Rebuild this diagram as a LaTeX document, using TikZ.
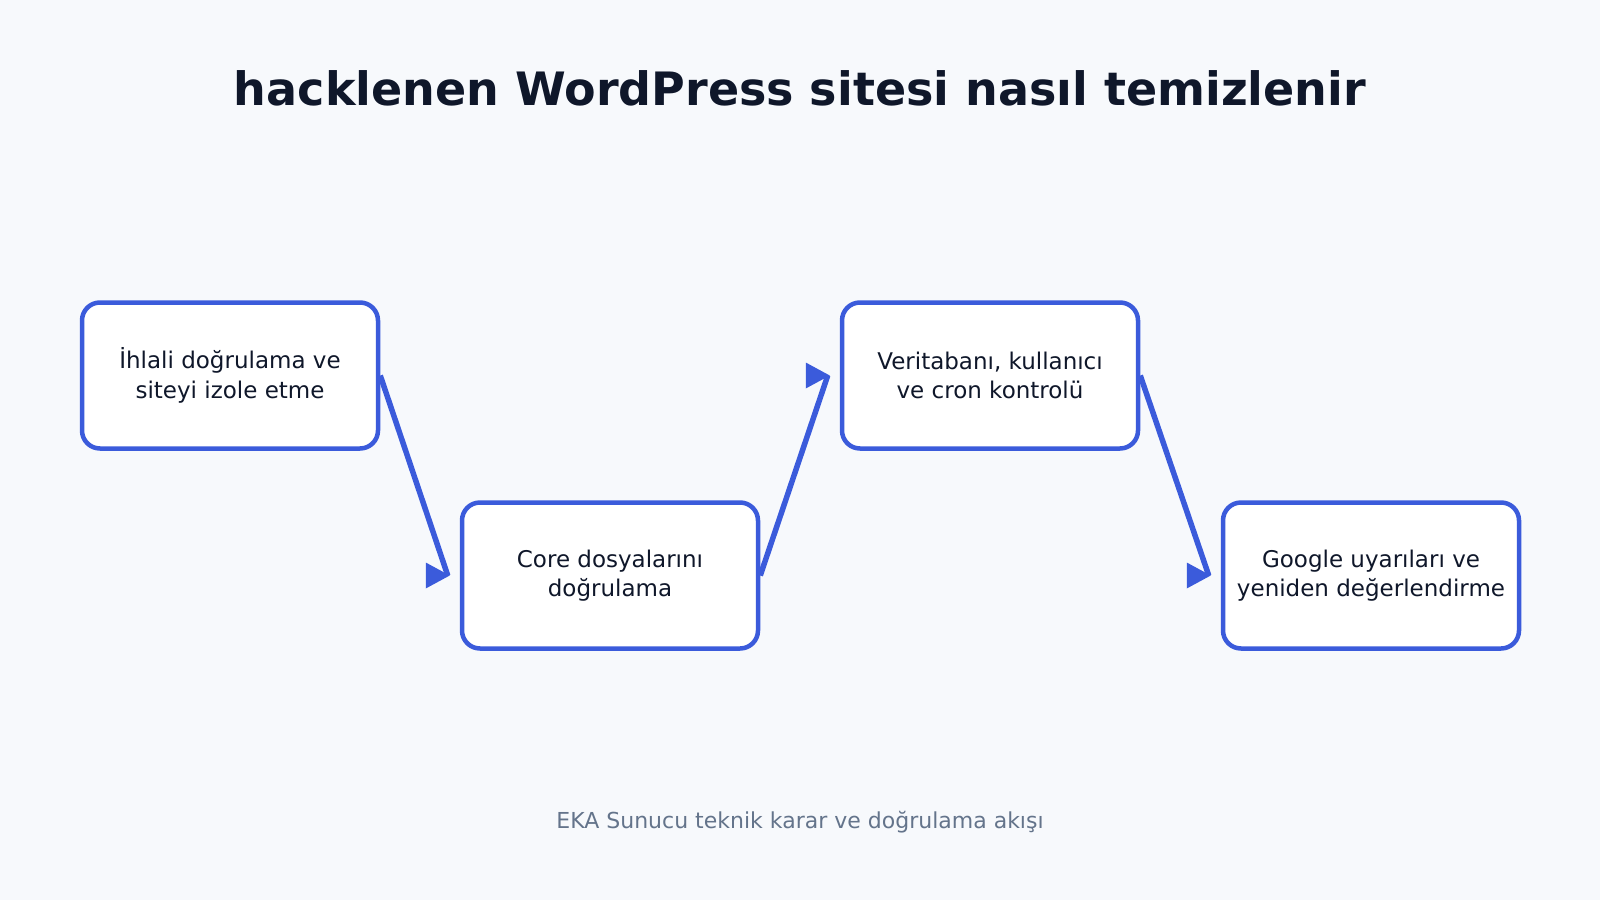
\documentclass[tikz,border=0pt]{standalone}
\usepackage{fontspec}
\setmainfont{DejaVu Sans}
\usetikzlibrary{calc}
\definecolor{bg}{HTML}{F7F9FC}
\definecolor{blu}{HTML}{3B5BDB}
\definecolor{ink}{HTML}{0F172A}
\definecolor{txt}{HTML}{0F172A}
\definecolor{foot}{HTML}{64748B}
\begin{document}
\begin{tikzpicture}[x=1pt,y=-1pt,
 stepbox/.style={draw=blu, line width=4.5pt, fill=white, rounded corners=18pt, minimum width=296pt, minimum height=146pt, align=center, font=\fontsize{23}{29.5}\selectfont, text=txt, inner sep=0pt},
 conn/.style={draw=blu, line width=5.5pt},
 tipfill/.style={fill=blu}]
\fill[bg] (0,0) rectangle (1600,900);
\useasboundingbox (0,0) rectangle (1600,900);
\node[font=\fontsize{46}{54}\selectfont\bfseries, text=ink] (title) at (800,88) {hacklenen WordPress sitesi nasıl temizlenir};
\node[stepbox] (b1) at (230,375.5) {İhlali doğrulama ve\\siteyi izole etme};
\node[stepbox] (b2) at (610,575.5) {Core dosyalarını\\doğrulama};
\node[stepbox] (b3) at (990,375.5) {Veritabanı, kullanıcı\\ve cron kontrolü};
\node[stepbox] (b4) at (1371,575.5) {Google uyarıları ve\\yeniden değerlendirme};
\coordinate (e1) at ($(b2.west)+(-12,0)$);
\coordinate (e2) at ($(b3.west)+(-12,0)$);
\coordinate (e3) at ($(b4.west)+(-12,0)$);
\draw[conn] (b1.east) -- (e1);
\draw[conn] (b2.east) -- (e2);
\draw[conn] (b3.east) -- (e3);
\foreach \e in {e1,e2,e3}{
  \fill[tipfill] (\e) ++(2,0) -- ++(-24,-13) -- ++(0,26) -- cycle;
}
\node[font=\fontsize{22}{26}\selectfont, text=foot] (footer) at (800,822) {EKA Sunucu teknik karar ve doğrulama akışı};
\end{tikzpicture}
\end{document}
